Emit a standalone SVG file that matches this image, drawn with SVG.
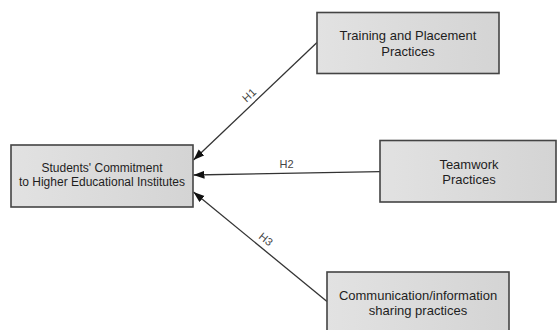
<svg xmlns="http://www.w3.org/2000/svg" width="558" height="330" viewBox="0 0 558 330">
<style>
  .box { fill: url(#boxfill); stroke: #444; stroke-width: 1.6; }
  .t { font-family: "Liberation Sans", Arial, sans-serif; fill: #1e1e1e; text-anchor: middle; }
  .t13 { font-size: 13px; }
  .t12 { font-size: 12px; }
  .edge { stroke: #333; stroke-width: 1.3; fill: none; marker-end: url(#arr); }
  .lbl { font-family: "Liberation Sans", Arial, sans-serif; font-size: 11px; fill: #444; text-anchor: middle; }
</style>
<defs>
  <linearGradient id="boxfill" x1="0" y1="0" x2="1" y2="0">
    <stop offset="0" stop-color="#e2e2e2"/>
    <stop offset="1" stop-color="#d4d4d4"/>
  </linearGradient>
  <marker id="arr" markerUnits="userSpaceOnUse" markerWidth="12" markerHeight="9" refX="11" refY="4" orient="auto">
    <path d="M0,0 L11,4 L0,8 z" fill="#111"/>
  </marker>
</defs>
<rect width="558" height="330" fill="#fff"/>
<g id="connectors">
  <line class="edge" x1="317" y1="42.5" x2="193.5" y2="160"/>
  <line class="edge" x1="380" y1="171.7" x2="193.5" y2="175"/>
  <line class="edge" x1="327" y1="301.5" x2="193.5" y2="192"/>
  <text class="lbl" transform="translate(249,95) rotate(-43)" y="4">H1</text>
  <text class="lbl" x="286.5" y="168">H2</text>
  <text class="lbl" transform="translate(266,239) rotate(39)" y="4">H3</text>
</g>
<g id="n-students">
  <rect class="box" x="11" y="145" width="182" height="62"/>
  <text class="t t12" x="102" y="172">Students' Commitment</text>
  <text class="t t12" x="102" y="186">to Higher Educational Institutes</text>
</g>
<g id="n-training">
  <rect class="box" x="317" y="12.5" width="182" height="61"/>
  <text class="t t13" x="408" y="39.5">Training and Placement</text>
  <text class="t t13" x="408" y="55.5">Practices</text>
</g>
<g id="n-teamwork">
  <rect class="box" x="380" y="140.5" width="176" height="61.5"/>
  <text class="t t13" x="469" y="168.5">Teamwork</text>
  <text class="t t13" x="469" y="183.5">Practices</text>
</g>
<g id="n-communication">
  <rect class="box" x="327" y="272" width="182" height="62"/>
  <text class="t t13" x="418" y="299.5">Communication/information</text>
  <text class="t t13" x="418" y="314.5">sharing practices</text>
</g>
</svg>
